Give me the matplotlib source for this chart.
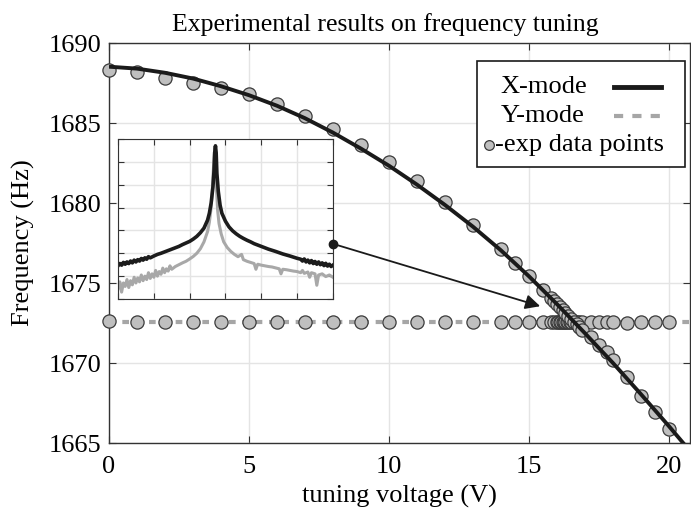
import numpy as np
import matplotlib.pyplot as plt
from matplotlib.patches import Rectangle

plt.rcParams['font.family'] = ['Liberation Serif', 'DejaVu Serif']

# fitted X-mode curve
fit_v = [0, 1, 2, 3, 4, 5, 6, 7, 8, 9, 10, 11, 12, 13, 14, 15, 16, 17, 18, 19, 20, 20.75]
fit_x = [1688.52, 1688.40, 1688.14, 1687.78, 1687.30, 1686.74, 1686.08, 1685.30, 1684.40,
         1683.40, 1682.33, 1681.15, 1679.88, 1678.52, 1677.04, 1675.42, 1673.68, 1671.86,
         1670.00, 1668.05, 1666.05, 1664.50]
ymode_level = 1672.55

# measured X-mode points
xv = [0, 1, 2, 3, 4, 5, 6, 7, 8, 9, 10, 11, 12, 13, 14, 14.5, 15, 15.5,
      15.8, 15.9, 16.0, 16.1, 16.2, 16.3, 16.4, 16.5, 16.6, 16.7, 16.8, 16.9,
      17.2, 17.5, 17.8, 18.0, 18.5, 19.0, 19.5, 20.0]
xf = [1688.30, 1688.17, 1687.83, 1687.48, 1687.16, 1686.81, 1686.19, 1685.46, 1684.60,
      1683.64, 1682.57, 1681.38, 1680.04, 1678.62, 1677.10, 1676.27, 1675.44, 1674.58,
      1674.04, 1673.85, 1673.68, 1673.50, 1673.32, 1673.14, 1672.95, 1672.77, 1672.59,
      1672.41, 1672.22, 1672.04, 1671.64, 1671.10, 1670.70, 1670.19, 1669.10, 1667.94,
      1666.96, 1665.86]

# measured Y-mode points
yv = [0, 1, 2, 3, 4, 5, 6, 7, 8, 9, 10, 11, 12, 13, 14, 14.5, 15, 15.5,
      15.8, 15.9, 16.0, 16.05, 16.1, 16.15, 16.2, 16.25, 16.3, 16.35, 16.4, 16.45,
      16.5, 16.6, 16.7, 16.8, 16.9, 17.2, 17.5, 17.8, 18.0, 18.5, 19.0, 19.5, 20.0]
yf = [1672.62, 1672.55, 1672.55, 1672.56, 1672.55, 1672.56, 1672.55, 1672.56, 1672.55,
      1672.56, 1672.58, 1672.56, 1672.56, 1672.55, 1672.56, 1672.55, 1672.56, 1672.56,
      1672.55, 1672.55, 1672.55, 1672.55, 1672.55, 1672.55, 1672.55, 1672.55, 1672.55,
      1672.55, 1672.55, 1672.55, 1672.55, 1672.55, 1672.55, 1672.55, 1672.55, 1672.55,
      1672.55, 1672.55, 1672.55, 1672.50, 1672.55, 1672.55, 1672.55]

# inset spectra (arbitrary units)
sx_b = [0.00, 0.05, 0.10, 0.15, 0.20, 0.25, 0.30, 0.35, 0.40, 0.45, 0.50, 0.55, 0.60, 0.65,
        0.70, 0.75, 0.80, 0.85, 0.90, 1.00, 1.10, 1.20, 1.30, 1.40, 1.50, 1.60, 1.70, 1.80,
        1.90, 2.00, 2.10, 2.20, 2.30, 2.40, 2.50, 2.55, 2.60, 2.65, 2.68, 2.70, 2.72, 2.74,
        2.76, 2.80, 2.85, 2.90, 3.00, 3.10, 3.20, 3.30, 3.40, 3.50, 3.60, 3.70, 3.80, 3.90,
        4.00, 4.20, 4.40, 4.60, 4.80, 5.00, 5.10, 5.15, 5.20, 5.25, 5.30, 5.35, 5.40, 5.45,
        5.50, 5.55, 5.60, 5.65, 5.70, 5.75, 5.80, 5.85, 5.90, 5.95, 6.00]
sy_b = [1.45, 1.55, 1.48, 1.60, 1.52, 1.62, 1.55, 1.66, 1.58, 1.70, 1.62, 1.72, 1.66, 1.77,
        1.70, 1.80, 1.74, 1.85, 1.80, 1.88, 1.95, 2.00, 2.06, 2.12, 2.18, 2.24, 2.30, 2.38,
        2.45, 2.52, 2.62, 2.74, 2.90, 3.10, 3.45, 3.75, 4.20, 4.90, 5.60, 6.40, 6.70, 6.40,
        5.50, 4.70, 4.10, 3.75, 3.40, 3.15, 2.98, 2.85, 2.74, 2.65, 2.57, 2.50, 2.42, 2.36,
        2.30, 2.18, 2.08, 1.97, 1.88, 1.78, 1.74, 1.66, 1.75, 1.62, 1.70, 1.58, 1.68, 1.55,
        1.64, 1.52, 1.62, 1.50, 1.58, 1.46, 1.56, 1.44, 1.52, 1.42, 1.48]
sx_g = [0.00, 0.05, 0.10, 0.15, 0.20, 0.25, 0.30, 0.35, 0.40, 0.45, 0.50, 0.55, 0.60, 0.65,
        0.70, 0.75, 0.80, 0.85, 0.90, 0.95, 1.00, 1.05, 1.10, 1.15, 1.20, 1.25, 1.30, 1.35,
        1.40, 1.45, 1.50, 1.60, 1.70, 1.80, 1.90, 2.00, 2.10, 2.20, 2.30, 2.40, 2.50, 2.55,
        2.60, 2.63, 2.66, 2.69, 2.71, 2.73, 2.75, 2.78, 2.82, 2.88, 2.95, 3.05, 3.15, 3.25,
        3.35, 3.45, 3.50, 3.60, 3.70, 3.80, 3.85, 3.90, 4.00, 4.10, 4.20, 4.30, 4.40, 4.50,
        4.55, 4.60, 4.70, 4.80, 4.90, 5.00, 5.10, 5.15, 5.20, 5.30, 5.35, 5.40, 5.50, 5.55,
        5.60, 5.70, 5.80, 5.90, 6.00]
sy_g = [0.45, 0.75, 0.30, 0.70, 0.55, 0.85, 0.50, 0.80, 0.62, 0.95, 0.70, 0.92, 0.75, 1.05,
        0.80, 1.00, 0.85, 1.15, 0.90, 1.10, 0.95, 1.25, 1.00, 1.20, 1.08, 1.35, 1.15, 1.32,
        1.22, 1.45, 1.30, 1.42, 1.50, 1.58, 1.65, 1.75, 1.86, 2.00, 2.20, 2.50, 2.95, 3.35,
        4.00, 4.70, 5.60, 6.40, 6.60, 6.00, 4.80, 3.90, 3.30, 2.85, 2.50, 2.25, 2.08, 1.95,
        1.85, 1.95, 1.72, 1.65, 1.60, 1.55, 1.30, 1.52, 1.48, 1.45, 1.42, 1.40, 1.36, 1.32,
        1.10, 1.30, 1.28, 1.25, 1.22, 1.20, 1.15, 1.25, 1.12, 1.18, 0.95, 1.15, 1.10, 0.60,
        1.05, 1.10, 0.98, 1.05, 0.95]

fs = 19
fig = plt.figure(figsize=(6.91, 5.17), dpi=100)
ax = fig.add_axes([0.1577, 0.1431, 0.8408, 0.7737])

ax.plot(yv, yf, linestyle='none', marker='o', ms=9.5, mfc='#bfbfbf', mec='#3a3a3a', mew=0.9,
        zorder=3, clip_on=False)
ax.plot(xv, xf, linestyle='none', marker='o', ms=9.5, mfc='#bfbfbf', mec='#3a3a3a', mew=0.9,
        zorder=3, clip_on=False)
ax.axhline(ymode_level, color='#a6a6a6', lw=3, linestyle=(0, (1.6, 1.6)), zorder=2)
ax.plot(fit_v, fit_x, color='#1a1a1a', lw=2.8, zorder=4, solid_capstyle='butt')

ax.set_xlim(0, 20.75)
ax.set_ylim(1665, 1690)
ax.set_xticks([0, 5, 10, 15, 20])
ax.set_yticks([1665, 1670, 1675, 1680, 1685, 1690])
ax.grid(True, color='#e4e4e4', lw=1)
ax.set_axisbelow(True)
ax.tick_params(direction='in', top=True, right=True, labelsize=fs, length=5, color='#333333')
ax.tick_params(axis='x', pad=9.5)
ax.tick_params(axis='y', pad=5.5)
for s in ax.spines.values():
    s.set_color('#333333')
    s.set_linewidth(1)
ax.set_title('Experimental results on frequency tuning', fontsize=18.5, pad=8.5, x=0.476)
ax.set_xlabel('tuning voltage (V)', fontsize=fs, labelpad=5)
ax.set_ylabel('Frequency (Hz)', fontsize=fs, labelpad=10)

# arrow from the inset to the crossing
ax.annotate('', xy=(15.4, 1673.55), xytext=(8.0, 1677.45),
            arrowprops=dict(arrowstyle='-|>', color='#1a1a1a', lw=1.3, mutation_scale=22,
                            shrinkA=0, shrinkB=0), zorder=5)

# legend drawn by hand (text left, handle right)
ax.add_patch(Rectangle((0.633, 0.69), 0.358, 0.265, transform=ax.transAxes, facecolor='white',
                       edgecolor='#1a1a1a', lw=1.2, zorder=10))
ax.text(0.673, 0.891, 'X-mode', transform=ax.transAxes, fontsize=fs, va='center', zorder=11)
ax.text(0.675, 0.8175, 'Y-mode', transform=ax.transAxes, fontsize=fs, va='center', zorder=11)
ax.text(0.665, 0.744, '-exp data points', transform=ax.transAxes, fontsize=fs, va='center', zorder=11)
ax.plot([0.869, 0.950], [0.891, 0.891], transform=ax.transAxes, color='#1a1a1a', lw=3.5, zorder=11)
ax.plot([0.869, 0.950], [0.8175, 0.8175], transform=ax.transAxes, color='#a6a6a6', lw=3,
        linestyle=(0, (2.2, 2.2)), zorder=11)
ax.plot([0.654], [0.746], transform=ax.transAxes, marker='o', ms=7, mfc='#bfbfbf', mec='#3a3a3a',
        mew=0.9, zorder=11)

# inset with the measured spectra
ins = fig.add_axes([0.1708, 0.4217, 0.311, 0.3095])
ins.plot(sx_g, sy_g, color='#a8a8a8', lw=2.2)
ins.plot(sx_b, sy_b, color='#1c1c1c', lw=2.6)
ins.plot([6.0], [2.41], marker='o', ms=6, color='#1a1a1a', clip_on=False, zorder=6)
ins.set_xlim(0, 6)
ins.set_ylim(0, 7)
ins.set_xticks(range(7))
ins.set_yticks(range(8))
ins.grid(True, color='#e4e4e4', lw=1)
ins.tick_params(direction='in', top=True, right=True, labelleft=False, labelbottom=False,
                length=4, color='#333333')
for s in ins.spines.values():
    s.set_color('#333333')

fig.savefig('out.png', dpi=100)
